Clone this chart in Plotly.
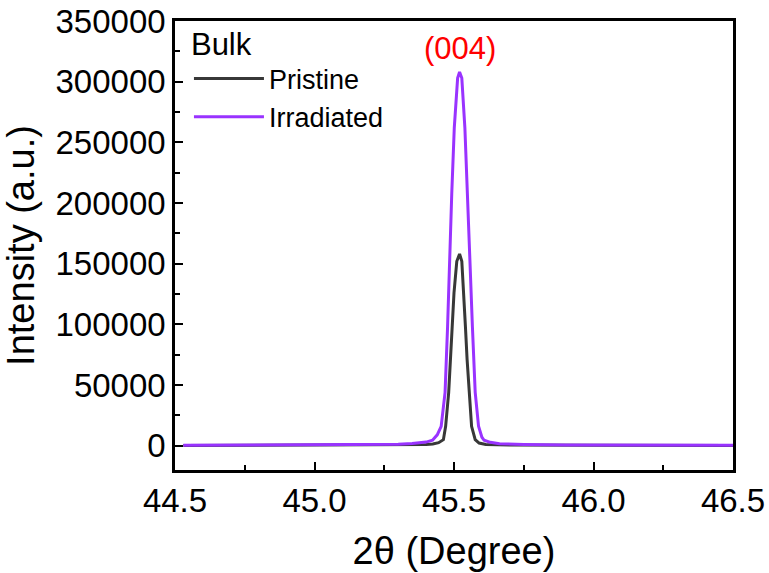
import plotly.graph_objects as go

# Data (2θ in degrees, intensity in a.u.)
pristine_x = [44.53, 45.0, 45.3, 45.40, 45.424, 45.445, 45.462, 45.470, 45.481, 45.488,
              45.494, 45.500, 45.510, 45.520, 45.528, 45.535, 45.541, 45.547, 45.554,
              45.563, 45.576, 45.590, 45.614, 45.70, 46.0, 46.5]
pristine_y = [200, 300, 500, 1000, 1500, 2500, 5000, 16000, 44000, 71000,
              98000, 126000, 152000, 158000, 152000, 126000, 98000, 71000, 44000,
              16000, 5000, 2200, 1000, 500, 300, 200]

irradiated_x = [44.53, 44.8, 45.0, 45.2, 45.3, 45.35, 45.40, 45.423, 45.44, 45.454,
                45.468, 45.477, 45.484, 45.492, 45.501, 45.513, 45.520, 45.528, 45.539,
                45.547, 45.557, 45.566, 45.576, 45.588, 45.600, 45.608, 45.63, 45.663,
                45.75, 45.9, 46.1, 46.3, 46.5]
irradiated_y = [300, 400, 500, 800, 1200, 1800, 3000, 4500, 9000, 16000,
                44000, 98000, 153000, 208000, 262000, 303000, 308000, 303000, 262000,
                208000, 153000, 98000, 44000, 16000, 7000, 4500, 2800, 1600,
                1000, 700, 500, 400, 300]

peak_label = "(004)"
peak_pos = 45.52
peak_height = 308000

FONT = "Liberation Sans, Arial, sans-serif"

fig = go.Figure()
fig.add_trace(go.Scatter(x=pristine_x, y=pristine_y, mode="lines", name="Pristine",
                         line=dict(color="#383838", width=3)))
fig.add_trace(go.Scatter(x=irradiated_x, y=irradiated_y, mode="lines", name="Irradiated",
                         line=dict(color="#9933ff", width=3)))

fig.add_annotation(x=peak_pos, y=peak_height, text=peak_label, showarrow=False,
                   yanchor="bottom", yshift=4,
                   font=dict(family=FONT, size=31, color="#ff0000"))

axis_common = dict(
    showline=True, linewidth=2.5, linecolor="black", mirror=True,
    ticks="inside", ticklen=8, tickwidth=2, tickcolor="black",
    showgrid=False, zeroline=False, automargin=False,
    tickfont=dict(family=FONT, size=33, color="black"),
)

fig.update_layout(
    width=769, height=573,
    margin=dict(l=175, r=36, t=21, b=103),
    paper_bgcolor="white", plot_bgcolor="white",
    font=dict(family=FONT, color="black"),
    xaxis=dict(range=[44.5, 46.5], dtick=0.5, tick0=44.5, tickformat=".1f",
               minor=dict(dtick=0.25, ticks="inside", ticklen=5, tickwidth=2, tickcolor="black"),
               title=dict(text="2θ (Degree)", font=dict(family=FONT, size=38), standoff=20),
               **axis_common),
    yaxis=dict(range=[-20000, 350000], dtick=50000, tick0=0, tickformat="d",
               minor=dict(dtick=25000, ticks="inside", ticklen=5, tickwidth=2, tickcolor="black"),
               title=dict(text="Intensity (a.u.)", font=dict(family=FONT, size=38), standoff=10),
               **axis_common),
    legend=dict(x=0.025, y=1.015, xanchor="left", yanchor="top",
                bgcolor="rgba(0,0,0,0)", borderwidth=0,
                font=dict(family=FONT, size=27, color="black"),
                title=dict(text="Bulk", font=dict(family=FONT, size=31, color="black")),
                itemwidth=70, tracegroupgap=0),
    showlegend=True,
)

fig.write_html("out.html")
